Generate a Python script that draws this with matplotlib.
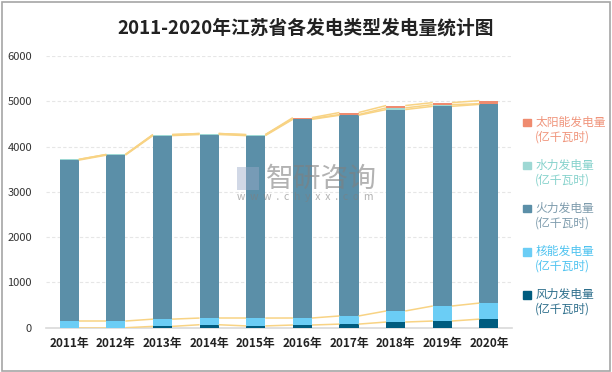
import numpy as np
import matplotlib
matplotlib.use("Agg")
from matplotlib import pyplot as plt
from matplotlib.patches import Patch, Rectangle

plt.rcParams['font.family'] = ['Noto Sans CJK SC', 'DejaVu Sans']

# data (亿千瓦时)
years = ['2011年', '2012年', '2013年', '2014年', '2015年',
         '2016年', '2017年', '2018年', '2019年', '2020年']
wind = [0, 0, 30, 66, 40, 60, 80, 126, 148, 190]
nuclear = [148, 148, 160, 148, 174, 155, 180, 244, 332, 355]
thermal = [3555, 3665, 4055, 4055, 4030, 4390, 4435, 4450, 4412, 4390]
hydro = [16, 15, 22, 22, 22, 15, 15, 37, 37, 15]
solar = [0, 0, 0, 0, 0, 22, 45, 52, 45, 67]

names = ['风力发电量', '核能发电量', '火力发电量', '水力发电量', '太阳能发电量']
colors = ['#005C7F', '#6BCDF5', '#5B8FA8', '#9ED8D4', '#EF8B6F']
textColors = ['#2E6F8C', '#4FC3F0', '#7E9CAD', '#86D2CC', '#F0957C']
series = [wind, nuclear, thermal, hydro, solar]

fig = plt.figure(figsize=(6.12, 3.72), dpi=100)
ax = fig.add_axes([0.075, 0.119, 0.762, 0.730])

x = np.arange(len(years))
w = 0.41
bottom = np.zeros(len(years))
levels = []
for vals, c in zip(series, colors):
    vals = np.array(vals, dtype=float)
    ax.bar(x, vals, w, bottom=bottom, color=c, zorder=3)
    bottom = bottom + vals
    levels.append(bottom.copy())

# series lines between neighbouring bars
for lev in levels:
    for i in range(len(years) - 1):
        ax.plot([x[i] + w/2, x[i+1] - w/2], [lev[i], lev[i+1]],
                color='#F8D384', lw=1.1, zorder=4, solid_capstyle='butt')

ax.set_xlim(-0.5, 9.5)
ax.set_ylim(0, 6000)
ax.set_yticks(range(0, 6001, 1000))
ax.set_xticks(x)
ax.set_xticklabels(years, fontsize=8.5, fontweight='bold', color='#222222')
ax.tick_params(axis='y', labelsize=8, colors='#333333', length=0, pad=10)
ax.tick_params(axis='x', length=0, pad=7)
ax.grid(axis='y', color='#E6E6E6', lw=0.8, ls=(0, (3, 2)), zorder=0)
for s in ['top', 'right', 'left']:
    ax.spines[s].set_visible(False)
ax.spines['bottom'].set_color('#D9D9D9')
ax.spines['bottom'].set_linewidth(1.2)

# legend, reversed order
handles = [Patch(color=c) for c in colors[::-1]]
labels = [n + '\n(亿千瓦时)' for n in names[::-1]]
leg = fig.legend(handles, labels, loc='upper left', bbox_to_anchor=(0.838, 0.718),
                 frameon=False, fontsize=8.5, handlelength=0.6, handleheight=0.6,
                 handletextpad=0.4, labelspacing=1.28, labelcolor=textColors[::-1])
for h in leg.legend_handles:
    h.set_y(6)

# watermark
fig.text(0.435, 0.52, '智研咨询', fontsize=20, color='#7F7F7F', alpha=0.6,
         ha='left', va='center')
fig.text(0.387, 0.47, 'w  w  w  .  c  h  y  x  x  .  c  o  m', fontsize=7.5,
         color='#7F7F7F', alpha=0.6, ha='left', va='center')
fig.patches.append(Rectangle((0.388, 0.49), 0.036, 0.062, transform=fig.transFigure,
                             facecolor='#9AAAC8', alpha=0.45, edgecolor='none'))

fig.text(0.5, 0.925, '2011-2020年江苏省各发电类型发电量统计图', fontsize=13.5,
         fontweight='bold', color='#222222', ha='center', va='center')

fig.patches.append(Rectangle((0.003, 0.004), 0.993, 0.99, transform=fig.transFigure,
                             fill=False, edgecolor='#A6A6A6', lw=1.2))

fig.savefig('out.png', dpi=100)
